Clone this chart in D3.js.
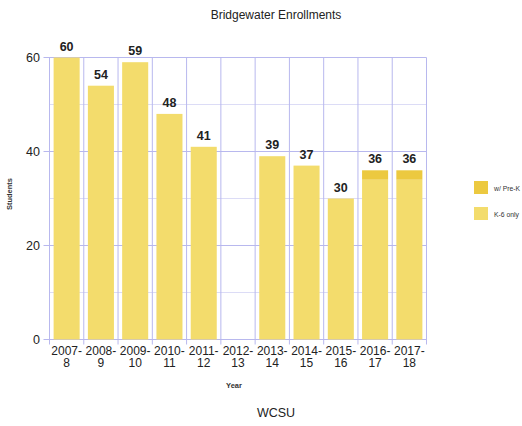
<!DOCTYPE html>
<html>
<head>
<meta charset="utf-8">
<script src="https://cdn.jsdelivr.net/npm/d3@7"></script>
<style>
  html, body { margin: 0; padding: 0; background: #fff; }
  svg { display: block; font-family: "Liberation Sans", Arial, Helvetica, sans-serif; }
</style>
</head>
<body>
<svg id="chart" width="522" height="426"></svg>
<script>
// School years (label split across two lines at the hyphen)
const years = ["2007-8", "2008-9", "2009-10", "2010-11", "2011-12", "2012-13",
               "2013-14", "2014-15", "2015-16", "2016-17", "2017-18"];
// K-6 enrollment
const k6Only = [60, 54, 59, 48, 41, null, 39, 37, 30, 34, 34];
// Additional Pre-K enrollment
const preK = [0, 0, 0, 0, 0, null, 0, 0, 0, 2, 2];
// Total shown above each bar
const totals = [60, 54, 59, 48, 41, null, 39, 37, 30, 36, 36];
const yTicks = [0, 20, 40, 60];
const yMinor = [10, 30, 50];
const seriesNames = ["w/ Pre-K", "K-6 only"];

const colK6 = "#f3dc6c";
const colPreK = "#ecc940";
const gridCol = "#b8b8ee";
const gridMinor = "#dcdcf6";

const svg = d3.select("#chart");
const m = { left: 49.5, right: 426.5, top: 57.5, bottom: 339.5 };

const x = d3.scaleBand().domain(years).range([m.left, m.right]).paddingInner(0.24).paddingOuter(0.12);
const xBound = d3.scaleBand().domain(years).range([m.left, m.right]);
const y = d3.scaleLinear().domain([0, 60]).range([m.bottom, m.top]);

// Minor horizontal gridlines
svg.append("g").selectAll("line").data(yMinor).join("line")
  .attr("x1", m.left).attr("x2", m.right)
  .attr("y1", d => y(d)).attr("y2", d => y(d))
  .attr("stroke", gridMinor).attr("stroke-width", 1);

// Major horizontal gridlines with left ticks
svg.append("g").selectAll("line").data(yTicks).join("line")
  .attr("x1", m.left - 6).attr("x2", m.right)
  .attr("y1", d => y(d)).attr("y2", d => y(d))
  .attr("stroke", gridCol).attr("stroke-width", 1);

// Vertical category boundaries
const bounds = years.map(d => xBound(d)).concat([m.right]);
svg.append("g").selectAll("line").data(bounds).join("line")
  .attr("x1", d => d).attr("x2", d => d)
  .attr("y1", m.top).attr("y2", m.bottom + 5)
  .attr("stroke", gridCol).attr("stroke-width", 1);

// Stacked bars: K-6 base and Pre-K on top
const rows = years.map((yr, i) => ({ yr, k6: k6Only[i], pk: preK[i], total: totals[i] }))
  .filter(d => d.k6 != null);

svg.append("g").selectAll("rect").data(rows).join("rect")
  .attr("x", d => x(d.yr)).attr("width", x.bandwidth())
  .attr("y", d => y(d.k6)).attr("height", d => y(0) - y(d.k6))
  .attr("fill", colK6);

svg.append("g").selectAll("rect").data(rows.filter(d => d.pk > 0)).join("rect")
  .attr("x", d => x(d.yr)).attr("width", x.bandwidth())
  .attr("y", d => y(d.k6 + d.pk)).attr("height", d => y(d.k6) - y(d.k6 + d.pk))
  .attr("fill", colPreK);

// Value labels
svg.append("g").selectAll("text").data(rows).join("text")
  .attr("x", d => x(d.yr) + x.bandwidth() / 2)
  .attr("y", d => y(d.total) - 7)
  .attr("text-anchor", "middle")
  .attr("font-size", 12.5).attr("font-weight", "bold").attr("fill", "#222")
  .text(d => d.total);

// Y tick labels
svg.append("g").selectAll("text").data(yTicks).join("text")
  .attr("x", 40).attr("y", d => y(d) + 4.5)
  .attr("text-anchor", "end").attr("font-size", 12.5).attr("fill", "#222")
  .text(d => d);

// X tick labels on two lines
const xl = svg.append("g").selectAll("text").data(years).join("text")
  .attr("text-anchor", "middle").attr("font-size", 12).attr("fill", "#222");
xl.append("tspan")
  .attr("x", d => xBound(d) + xBound.bandwidth() / 2).attr("y", 354.5)
  .text(d => d.split("-")[0] + "-");
xl.append("tspan")
  .attr("x", d => xBound(d) + xBound.bandwidth() / 2).attr("y", 367)
  .text(d => d.split("-")[1]);

// Titles
svg.append("text").attr("x", 276).attr("y", 19).attr("text-anchor", "middle")
  .attr("font-size", 12).attr("fill", "#222").text("Bridgewater Enrollments");
svg.append("text").attr("x", 234).attr("y", 388).attr("text-anchor", "middle")
  .attr("font-size", 7.5).attr("font-weight", "bold").attr("fill", "#333").text("Year");
svg.append("text").attr("transform", "translate(12,194) rotate(-90)").attr("text-anchor", "middle")
  .attr("font-size", 7.5).attr("font-weight", "bold").attr("fill", "#333").text("Students");
svg.append("text").attr("x", 276).attr("y", 417).attr("text-anchor", "middle")
  .attr("font-size", 12.5).attr("fill", "#222").text("WCSU");

// Legend
const legend = svg.append("g").selectAll("g").data(seriesNames).join("g")
  .attr("transform", (d, i) => `translate(474,${181 + i * 26})`);
legend.append("rect").attr("width", 14).attr("height", 13)
  .attr("fill", (d, i) => i === 0 ? colPreK : colK6);
legend.append("text").attr("x", 20).attr("y", 9.5)
  .attr("font-size", 6.8).attr("fill", "#333").text(d => d);
</script>
</body>
</html>
